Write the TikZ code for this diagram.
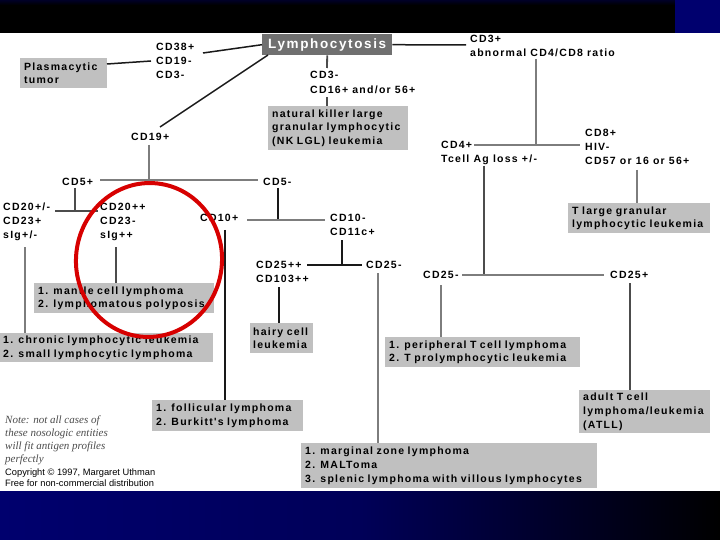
\documentclass[tikz,border=0pt]{standalone}
\usepackage{fontspec}
\setmainfont{Liberation Sans}
\newfontfamily\lbfam{Liberation Sans}[LetterSpace=12]
\newfontfamily\notefam{Liberation Serif}
\definecolor{boxgray}{RGB}{192,192,192}
\definecolor{darkbox}{RGB}{112,112,112}
\definecolor{linegray}{RGB}{125,125,125}
\definecolor{navyc}{RGB}{0,0,110}
\definecolor{redc}{RGB}{215,0,0}
\newcommand{\lbfont}{\lbfam\fontsize{10.5}{13.8}\selectfont\bfseries}
\begin{document}
\begin{tikzpicture}[x=1pt,y=-1pt,
  txt/.style={anchor=north west, inner sep=0pt, align=left, font=\lbfont},
  box/.style={anchor=north west, fill=boxgray, inner xsep=4pt, inner ysep=0pt, align=left, font=\lbfont},
  dbox/.style={anchor=north west, fill=darkbox, text=white, inner sep=0pt, minimum width=130pt, minimum height=21pt, font=\lbfam\fontsize{13.5}{15}\selectfont\bfseries},
  ln/.style={draw=black!90, line width=1.5pt},
  dl/.style={draw=black!70, line width=1.8pt},
  gl/.style={draw=linegray, line width=2pt},
  ring/.style={draw=redc, line width=4pt}
]
\useasboundingbox (0,0) rectangle (720,540);
% background bands
\fill[white] (0,0) rectangle (720,540);
\fill[black] (0,0) rectangle (720,33);
\shade[top color=navyc!35!black, bottom color=black] (0,0) rectangle (675,5);
\fill[navyc] (675,0) rectangle (720,33);
\shade[left color=navyc, right color=black, middle color=navyc!80!black] (0,491) rectangle (720,540);

% ---------- nodes ----------
\node[dbox] (lymph) at (262,34) {Lymphocytosis};
\node[txt] (cd38) at (156,43) {CD38+\\CD19-\\CD3-};
\node[box, text width=79pt, minimum height=30pt] (plasma) at (20,58) {Plasmacytic\\tumor};
\node[txt] (cd19p) at (131,133) {CD19+};
\node[txt] (cd3m) at (310,71) {CD3-\\[1.5pt]CD16+ and/or 56+};
\node[box, text width=132pt, minimum height=44pt] (nk) at (268,106) {\mbox{natural killer large}\\\mbox{granular lymphocytic}\\\mbox{(NK LGL) leukemia}};
\node[txt] (cd3p) at (470,35) {CD3+\\abnormal CD4/CD8 ratio};
\node[txt] (cd4p) at (441,141) {CD4+\\Tcell Ag loss +/-};
\node[txt] (cd8p) at (585,129) {CD8+\\HIV-\\CD57 or 16 or 56+};
\node[box, text width=134pt, minimum height=30pt] (tlgl) at (568,203) {\mbox{T large granular}\\\mbox{lymphocytic leukemia}};
\node[txt] (cd5p) at (62,178) {CD5+};
\node[txt] (cd5m) at (263,178) {CD5-};
\node[txt] (cd20a) at (3,203) {CD20+/-\\CD23+\\sIg+/-};
\node[txt] (cd20b) at (100,203) {CD20++\\CD23-\\sIg++};
\node[txt] (cd10p) at (200,214) {CD10+};
\node[txt] (cd10m) at (330,214) {CD10-\\CD11c+};
\node[txt] (cd25pp) at (256,261) {CD25++\\CD103++};
\node[txt] (cd25b) at (366,261) {CD25-};
\node[txt] (cd25t) at (423,271) {CD25-};
\node[txt] (cd25p) at (610,271) {CD25+};
\node[box, text width=172pt, minimum height=30pt] (mantle) at (34,283) {\mbox{1. mantle cell lymphoma}\\\mbox{2. lymphomatous polyposis}};
\node[box, inner xsep=3pt, text width=207pt, minimum height=29pt] (cll) at (0,333) {\mbox{1. chronic lymphocytic leukemia}\\\mbox{2. small lymphocytic lymphoma}};
\node[box, inner xsep=3pt, text width=57pt, minimum height=30pt] (hairy) at (250,323) {hairy cell\\leukemia};
\node[box, text width=187pt, minimum height=30pt] (ptcl) at (385,337) {\mbox{1. peripheral T cell lymphoma}\\\mbox{2. T prolymphocytic leukemia}};
\node[box, text width=123pt, minimum height=43pt] (atll) at (579,390) {adult T cell\\\mbox{lymphoma/leukemia}\\(ATLL)};
\node[box, text width=143pt, minimum height=31pt] (foll) at (152,400) {\mbox{1. follicular lymphoma}\\\mbox{2. Burkitt's lymphoma}};
\node[box, text width=288pt, minimum height=45pt] (mzl) at (301,443) {\mbox{1. marginal zone lymphoma}\\\mbox{2. MALToma}\\\mbox{3. splenic lymphoma with villous lymphocytes}};
\node[anchor=north west, inner sep=0pt, align=left, text=black!70,
      font=\notefam\itshape\fontsize{11}{12.8}\selectfont] (note) at (5,416)
      {Note: not all cases of\\these nosologic entities\\will fit antigen profiles\\perfectly};
\node[anchor=north west, inner sep=0pt, align=left, text=black,
      font=\fontsize{9.3}{10.8}\selectfont] (copy) at (5,469)
      {Copyright \textcopyright\ 1997, Margaret Uthman\\Free for non-commercial distribution};

% ---------- junction coordinates ----------
\coordinate (a38) at (203,53);
\coordinate (plE) at (107,64);
\coordinate (a19in) at (151,61);
\coordinate (lyBL) at (268,55);
\coordinate (a19) at (160,127);
\coordinate (a3p) at (466,45);
\coordinate (a3mT) at (327,68);
\coordinate (a3mB) at (327,97);
\coordinate (rTop) at (536,59);
\coordinate (rJ) at (536,145);
\coordinate (rL) at (474,145);
\coordinate (rR) at (580,145);
\coordinate (a8) at (637,170);
\coordinate (a4) at (484,166);
\coordinate (t25J) at (484,275);
\coordinate (t25L) at (462,275);
\coordinate (t25R) at (604,275);
\coordinate (a25p) at (630,283);
\coordinate (a25t) at (441,285);
\coordinate (b19) at (149,145);
\coordinate (bJ) at (149,180);
\coordinate (bL) at (100,180);
\coordinate (bR) at (258,180);
\coordinate (b5p) at (75,188);
\coordinate (b5J) at (75,211);
\coordinate (b20L) at (55,211);
\coordinate (b20R) at (98,211);
\coordinate (b20a) at (25,247);
\coordinate (b20b) at (116,247);
\coordinate (b5m) at (278,188);
\coordinate (b5mJ) at (278,220);
\coordinate (b10L) at (247,220);
\coordinate (b10R) at (325,220);
\coordinate (b10p) at (225,230);
\coordinate (b11) at (342,240);
\coordinate (b11J) at (342,265);
\coordinate (b25L) at (307,265);
\coordinate (b25R) at (362,265);
\coordinate (b103) at (279,287);
\coordinate (b25m) at (378,273);

% ---------- connectors ----------
\draw[ln] (a38) -- (lymph.west);
\draw[ln] (plE) -- (a19in);
\draw[ln] (lyBL) -- (a19);
\draw[ln] (lymph.east) -- (a3p);
\draw[dl] (lymph.south) -- (a3mT);
\draw[dl] (a3mB) -- (nk.north -| a3mB);
\draw[gl] (rTop) -- (rJ);
\draw[gl] (rL) -- (rR);
\draw[gl, line width=2.6pt] (a8) -- (tlgl.north -| a8);
\draw[dl] (a4) -- (t25J);
\draw[gl] (t25L) -- (t25R);
\draw[dl] (a25p) -- (atll.north -| a25p);
\draw[gl] (a25t) -- (ptcl.north -| a25t);
\draw[gl] (b19) -- (bJ);
\draw[gl] (bL) -- (bR);
\draw[dl] (b5p) -- (b5J);
\draw[dl] (b20L) -- (b20R);
\draw[gl] (b20a) -- (cll.north -| b20a);
\draw[dl] (b20b) -- (mantle.north -| b20b);
\draw[ln] (b5m) -- (b5mJ);
\draw[gl] (b10L) -- (b10R);
\draw[ln] (b10p) -- (foll.north -| b10p);
\draw[ln] (b11) -- (b11J);
\draw[ln] (b25L) -- (b25R);
\draw[ln] (b103) -- (hairy.north -| b103);
\draw[gl] (b25m) -- (mzl.north -| b25m);

% red highlight ring
\draw[ring, rotate around={-6:(149,260)}] (149,260) ellipse [x radius=73, y radius=77];
\end{tikzpicture}
\end{document}
